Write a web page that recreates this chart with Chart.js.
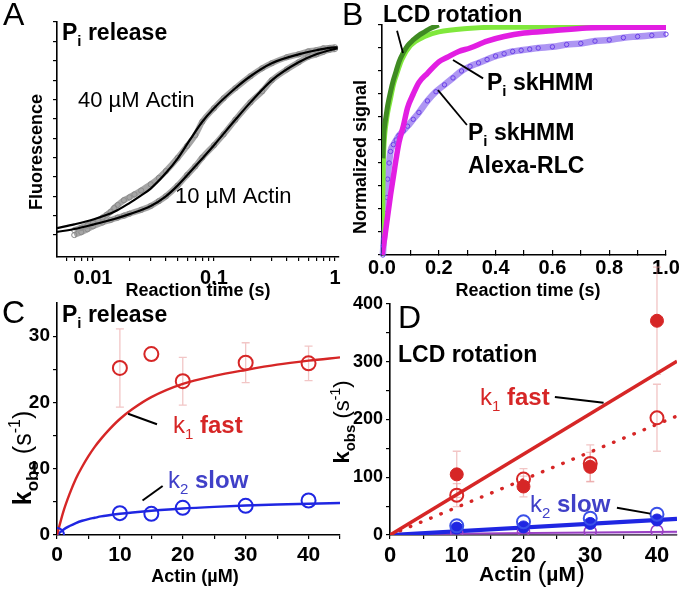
<!DOCTYPE html>
<html><head><meta charset="utf-8">
<script src="https://cdn.jsdelivr.net/npm/chart.js@4.4.1/dist/chart.umd.min.js"></script>
<style>
html,body{margin:0;padding:0;background:#fff;}
#wrap{position:relative;width:680px;height:592px;overflow:hidden;background:#fff;}
#wrap canvas{position:absolute;left:0;top:0;}
</style></head>
<body><div id="wrap">
<canvas id="cA" width="680" height="592"></canvas>
<canvas id="cB" width="680" height="592"></canvas>
<canvas id="cC" width="680" height="592"></canvas>
<canvas id="cD" width="680" height="592"></canvas>
</div>
<script>
// ---------- Panel A : Pi release (log time) ----------
const aFit40Time = [0.00504,0.007,0.01,0.015,0.02,0.025,0.03,0.04,0.05,0.063,0.08,0.1,0.15,0.2,0.3,0.5,0.7,1.0,1.05];
const aFit40     = [1.36,1.55,1.80,2.20,2.65,3.05,3.40,4.20,4.95,5.90,6.85,7.55,8.58,9.20,9.87,10.33,10.54,10.69,10.69];
const aFit10Time = [0.00504,0.007,0.01,0.015,0.02,0.03,0.04,0.05,0.07,0.1,0.15,0.2,0.3,0.5,0.7,1.0,1.05];
const aFit10     = [1.16,1.31,1.54,1.83,2.08,2.50,3.00,3.55,4.55,5.64,6.95,7.85,8.99,9.92,10.33,10.61,10.64];
const aData40Time = [0.007,0.008,0.009,0.01,0.011,0.012,0.013,0.014,0.015,0.016,0.018,0.02,0.022,0.025,0.03,0.035,0.04,0.05,0.06,0.07,0.08,0.1,0.12,0.15,0.2,0.25,0.3,0.4,0.5,0.6,0.7,0.8,0.9,1.0];
const aData40     = [1.25,1.38,1.50,1.62,1.75,1.90,2.05,2.20,2.40,2.55,2.80,2.95,3.10,3.30,3.62,3.95,4.30,4.98,5.60,6.15,6.85,7.55,8.06,8.58,9.20,9.61,9.87,10.18,10.33,10.48,10.54,10.64,10.66,10.69];
const aData10Time = [0.007,0.008,0.009,0.01,0.012,0.014,0.016,0.018,0.02,0.025,0.03,0.035,0.04,0.05,0.06,0.07,0.08,0.1,0.12,0.15,0.2,0.25,0.3,0.4,0.5,0.6,0.7,0.8,0.9,1.0];
const aData10     = [1.00,1.15,1.30,1.45,1.65,1.78,1.90,2.00,2.10,2.30,2.50,2.75,3.00,3.55,4.10,4.55,5.00,5.64,6.20,6.95,7.85,8.42,8.99,9.55,9.92,10.20,10.33,10.46,10.56,10.61];
const aXTicks = [0.006,0.007,0.008,0.009,0.01,0.02,0.03,0.04,0.05,0.06,0.07,0.08,0.09,0.1,0.2,0.3,0.4,0.5,0.6,0.7,0.8,0.9,1];
const aXLabelAt = [0.01,0.1,1];
const aXLabelText = ['0.01','0.1','1'];
const aYTicks = [1,2,3,4,5,6,7,8,9,10,11,12];

// ---------- Panel B : normalized signals ----------
const bDarkTime = [0.003,0.006,0.01,0.015,0.02,0.03,0.04,0.05,0.06,0.075,0.09,0.11,0.13,0.15,0.17,0.2];
const bDark     = [0.42,0.52,0.57,0.61,0.65,0.71,0.76,0.80,0.84,0.88,0.91,0.935,0.955,0.97,0.985,1.0];
const bLightTime = [0,0.002,0.004,0.006,0.01,0.015,0.02,0.03,0.04,0.05,0.07,0.1,0.15,0.2,0.3,0.4,0.5,0.6,0.7,0.8,0.9,1.0];
const bLight     = [0,0.15,0.35,0.45,0.53,0.58,0.62,0.68,0.74,0.78,0.85,0.91,0.95,0.97,0.985,0.99,0.99,0.99,0.993,0.99,0.99,0.99];
const bMagTime = [0,0.01,0.02,0.03,0.04,0.05,0.06,0.075,0.09,0.11,0.13,0.16,0.2,0.23,0.27,0.31,0.37,0.43,0.5,0.6,0.72,0.85,1.0];
const bMag     = [0,0.08,0.17,0.26,0.34,0.42,0.49,0.56,0.64,0.70,0.75,0.79,0.84,0.86,0.885,0.90,0.93,0.95,0.965,0.975,0.987,0.99,0.99];
const bPurTime = [0.003,0.005,0.007,0.01,0.013,0.017,0.02,0.025,0.03,0.04,0.05,0.06,0.075,0.09,0.11,0.13,0.16,0.19,0.22,0.25,0.28,0.31,0.34,0.37,0.4,0.43,0.46,0.49,0.52,0.55,0.6,0.65,0.7,0.75,0.8,0.85,0.9,0.95,1.0];
const bPur     = [0.0,0.04,0.07,0.12,0.18,0.25,0.33,0.40,0.45,0.48,0.50,0.52,0.54,0.56,0.59,0.62,0.67,0.71,0.74,0.77,0.80,0.82,0.835,0.85,0.865,0.875,0.885,0.89,0.895,0.90,0.905,0.915,0.92,0.93,0.935,0.945,0.95,0.955,0.96];
const bPurTailTime = [0,0,0.001,0.002];
const bPurTail     = [-0.21,-0.15,-0.10,-0.04];
const bXTicks = [0,0.1,0.2,0.3,0.4,0.5,0.6,0.7,0.8,0.9,1.0];
const bXLabelAt = [0,0.2,0.4,0.6,0.8,1.0];
const bXLabelText = ['0.0','0.2','0.4','0.6','0.8','1.0'];
const bYTicks = [0,0.1,0.2,0.3,0.4,0.5,0.6,0.7,0.8,0.9,1.0];

// ---------- Panel C : kobs vs actin (Pi release) ----------
const cFastActin = [10,15,20,30,40];
const cFast      = [25.2,27.3,23.2,26.0,25.9];
const cFastErr   = [5.9,0,3.6,3.0,2.6];
const cSlowActin = [0,10,15,20,30,40];
const cSlow      = [0,3.3,3.2,4.1,4.4,5.2];
const cFitActin  = [0,1,2,3,4,5,6,7,8,10,12,15,20,25,30,35,40,45];
const cFitFast   = [0,3.5,6.2,8.5,10.3,11.9,13.3,14.5,15.6,17.5,19.0,20.8,22.8,24.0,24.9,25.7,26.3,26.8];
const cFitSlow   = [0,0.8,1.35,1.8,2.15,2.4,2.6,2.8,2.95,3.2,3.4,3.65,4.0,4.25,4.45,4.6,4.72,4.82];
const cXTicks = [0,5,10,15,20,25,30,35,40,45];
const cXLabelAt = [0,10,20,30,40];
const cYTicks = [0,5,10,15,20,25,30];
const cYLabelAt = [0,10,20,30];

// ---------- Panel D : kobs vs actin (LCD rotation) ----------
const dActin = [10,20,30,40];
const dFastFilled = [105,84,118,371];
const dFastFilledErr = [40,18,25,93];
const dFastOpen = [69,97,124,203];
const dFastOpenErr = [20,18,32,58];
const dSlowOpen = [16,23,29,36];
const dSlowFilled = [12,14,20,26];
const dPurple = [4,7,6,7];
const dLineActin = [0,43];
const dFastLine = [0,301];
const dFastDotted = [0,206];
const dSlowLine = [0,28];
const dPurpleLine = [1.5,5.7];
const dXTicks = [0,5,10,15,20,25,30,35,40];
const dXLabelAt = [0,10,20,30,40];
const dYTicks = [0,50,100,150,200,250,300,350,400];
const dYLabelAt = [0,100,200,300,400];

// ---------- helpers ----------
const FAM = '"Liberation Sans", Arial, Helvetica, sans-serif';
const F = (s, b) => (b ? 'bold ' : '') + s + 'px ' + FAM;
const RED = '#d62626', BLUE = '#1f26e2', BLUE_T = '#4040c8', PURPLE = '#9a40c4';
const YW = 50, XH = 36;
const pts = (xs, ys) => xs.map((x, i) => ({x: x, y: ys[i]}));

function axis(o) {
  return {
    type: o.type || 'linear', position: o.pos, min: o.min, max: o.max,
    afterFit(s) {
      if (s.isHorizontal()) s.height = XH; else s.width = YW;
      s.paddingLeft = 0; s.paddingRight = 0; s.paddingTop = 0; s.paddingBottom = 0;
    },
    afterBuildTicks(s) { s.ticks = o.ticks.map(v => ({value: v})); },
    border: {display: true, color: '#000', width: 1.6},
    grid: {drawOnChartArea: false, drawTicks: true, tickLength: (o.tl !== undefined ? o.tl : 4), color: '#000', lineWidth: 1.2},
    ticks: {
      display: !!o.at, autoSkip: false, maxRotation: 0, minRotation: 0, padding: (o.pad !== undefined ? o.pad : 3),
      color: '#000', font: {family: FAM, weight: 'bold', size: o.fs || 17},
      callback: (v) => {
        if (!o.at) return '';
        const k = o.at.indexOf(v);
        if (k < 0) return '';
        return o.text ? o.text[k] : String(v);
      }
    }
  };
}
function base(scales, a) {
  return {
    responsive: false, animation: false, devicePixelRatio: 1, events: [],
    layout: {autoPadding: false, padding: {left: a.l - YW, top: a.t, right: 680 - a.r, bottom: 592 - a.b - XH}},
    plugins: {legend: {display: false}, tooltip: {enabled: false}},
    scales: scales
  };
}
function drawRich(ctx, it) {
  ctx.save();
  let total = 0;
  it.segs.forEach(s => { ctx.font = s.f; s.w = ctx.measureText(s.t).width; total += s.w; });
  ctx.translate(it.x, it.y);
  if (it.rot) ctx.rotate(-Math.PI / 2);
  let x = it.align === 'center' ? -total / 2 : 0;
  ctx.textBaseline = 'alphabetic'; ctx.textAlign = 'left';
  it.segs.forEach(s => { ctx.font = s.f; ctx.fillStyle = s.c || '#000'; ctx.fillText(s.t, x, s.dy || 0); x += s.w; });
  ctx.restore();
}
const seg = (t, f, c, dy) => ({t: t, f: f, c: c, dy: dy});
const piLabel = (rest) => [seg('P', F(23, 1)), seg('i', F(15, 1), '#000', 6), seg(rest, F(23, 1))];
const kLabel = (n, word, c) => [seg('k', F(24, 0), c), seg(n, F(15, 0), c, 6), seg(' ' + word, F(24, 1), c)];
const kobs = (fs) => [seg('k', F(fs, 1)), seg('obs', F(Math.round(fs * 0.68), 1), '#000', Math.round(fs * 0.27)), seg(' (s', F(fs, 0)), seg('-1', F(Math.round(fs * 0.62), 0), '#000', -Math.round(fs * 0.42)), seg(')', F(fs, 0))];

const ANN = {
  cA: {
    lines: [],
    texts: [
      {x: 3, y: 25, segs: [seg('A', F(32, 0))]},
      {x: 62, y: 40, segs: piLabel(' release')},
      {x: 78, y: 107, segs: [seg('40 µM Actin', F(22, 0))]},
      {x: 175, y: 203, segs: [seg('10 µM Actin', F(22, 0))]},
      {x: 42, y: 152, rot: true, align: 'center', segs: [seg('Fluorescence', F(18, 1))]},
      {x: 198, y: 296, align: 'center', segs: [seg('Reaction time (s)', F(18, 1))]}
    ]
  },
  cB: {
    lines: [
      {x1: 0.053, y1: 0.975, x2: 0.074, y2: 0.878},
      {x1: 0.25, y1: 0.848, x2: 0.356, y2: 0.768},
      {x1: 0.197, y1: 0.717, x2: 0.299, y2: 0.565}
    ],
    texts: [
      {x: 342, y: 25, segs: [seg('B', F(32, 0))]},
      {x: 383, y: 22, segs: [seg('LCD rotation', F(23, 1))]},
      {x: 487, y: 90, segs: piLabel(' skHMM')},
      {x: 468, y: 140, segs: piLabel(' skHMM')},
      {x: 468, y: 173, segs: [seg('Alexa-RLC', F(23, 1))]},
      {x: 366, y: 157, rot: true, align: 'center', segs: [seg('Normalized signal', F(18, 1))]},
      {x: 528, y: 296, align: 'center', segs: [seg('Reaction time (s)', F(18, 1))]}
    ]
  },
  cC: {
    lines: [
      {x1: 11.3, y1: 18.3, x2: 15.9, y2: 16.7, w: 2},
      {x1: 13.6, y1: 5.2, x2: 16.8, y2: 7.4, w: 2}
    ],
    texts: [
      {x: 2, y: 323, segs: [seg('C', F(32, 0))]},
      {x: 62, y: 322, segs: piLabel(' release')},
      {x: 173, y: 433, segs: kLabel('1', 'fast', RED)},
      {x: 168, y: 488, segs: kLabel('2', 'slow', BLUE_T)},
      {x: 31, y: 458, rot: true, align: 'center', segs: kobs(25)},
      {x: 195, y: 582, align: 'center', segs: [seg('Actin (µM)', F(18, 1))]}
    ]
  },
  cD: {
    lines: [
      {x1: 24.7, y1: 239, x2: 32, y2: 229, w: 2},
      {x1: 34.0, y1: 47, x2: 39.0, y2: 37, w: 2}
    ],
    texts: [
      {x: 398, y: 328, segs: [seg('D', F(32, 0))]},
      {x: 398, y: 362, segs: [seg('LCD rotation', F(23, 1))]},
      {x: 480, y: 405, segs: kLabel('1', 'fast', RED)},
      {x: 530, y: 512, segs: kLabel('2', 'slow', BLUE_T)},
      {x: 349, y: 422, rot: true, align: 'center', segs: kobs(22)},
      {x: 532, y: 581, align: 'center', segs: [seg('Actin ', F(21, 1)), seg('(', F(27, 0)), seg('µM', F(21, 1)), seg(')', F(27, 0))]}
    ]
  }
};

const annot = {
  id: 'annot',
  beforeDatasetsDraw(chart) {
    const ctx = chart.ctx, xs = chart.scales.x, ys = chart.scales.y;
    chart.data.datasets.forEach(ds => {
      if (!ds.errors) return;
      ctx.save(); ctx.strokeStyle = ds.errColor; ctx.lineWidth = 1.3;
      ds.data.forEach((p, i) => {
        const e = ds.errors[i]; if (!e) return;
        const x = xs.getPixelForValue(p.x), y1 = ys.getPixelForValue(p.y - e), y2 = ys.getPixelForValue(p.y + e);
        ctx.beginPath(); ctx.moveTo(x, y1); ctx.lineTo(x, y2);
        ctx.moveTo(x - 4, y1); ctx.lineTo(x + 4, y1); ctx.moveTo(x - 4, y2); ctx.lineTo(x + 4, y2);
        ctx.stroke();
      });
      ctx.restore();
    });
  },
  afterDraw(chart) {
    const spec = ANN[chart.canvas.id]; if (!spec) return;
    const ctx = chart.ctx, xs = chart.scales.x, ys = chart.scales.y;
    spec.lines.forEach(l => {
      ctx.save(); ctx.strokeStyle = l.c || '#000'; ctx.lineWidth = l.w || 1.8;
      ctx.beginPath();
      ctx.moveTo(xs.getPixelForValue(l.x1), ys.getPixelForValue(l.y1));
      ctx.lineTo(xs.getPixelForValue(l.x2), ys.getPixelForValue(l.y2));
      ctx.stroke(); ctx.restore();
    });
    spec.texts.forEach(t => drawRich(ctx, t));
  }
};
Chart.register(annot);

// ---------- Chart A ----------
const fitLine = (d) => ({data: d, showLine: true, borderColor: '#000', borderWidth: 2.2, pointRadius: 0, cubicInterpolationMode: 'monotone'});
const grayData = (d) => ({data: d, showLine: true, borderColor: 'rgba(155,155,155,0.9)', borderWidth: 6, pointRadius: 2.6,
  pointBorderColor: '#8a8a8a', pointBackgroundColor: 'rgba(255,255,255,0)', pointBorderWidth: 1, cubicInterpolationMode: 'monotone'});
new Chart(document.getElementById('cA'), {
  type: 'scatter',
  data: {datasets: [
    fitLine(pts(aFit40Time, aFit40)), fitLine(pts(aFit10Time, aFit10)),
    grayData(pts(aData40Time, aData40)), grayData(pts(aData10Time, aData10))
  ]},
  options: base({
    x: axis({type: 'logarithmic', pos: 'bottom', min: 0.00504, max: 1.079, ticks: aXTicks, at: aXLabelAt, text: aXLabelText, fs: 20, pad: 5}),
    y: axis({pos: 'left', min: -0.134, max: 12, ticks: aYTicks})
  }, {l: 57, t: 22, r: 339, b: 257})
});

// ---------- Chart B ----------
const band = (d, c, w) => ({data: d, showLine: true, borderColor: c, borderWidth: w, pointRadius: 0, cubicInterpolationMode: 'monotone'});
const purpleRing = {pointRadius: 2.2, pointBorderColor: '#6a40e6', pointBackgroundColor: 'rgba(255,255,255,0)', pointBorderWidth: 1, clip: false};
new Chart(document.getElementById('cB'), {
  type: 'scatter',
  data: {datasets: [
    band(pts(bDarkTime, bDark), '#3f8b22', 5),
    band(pts(bMagTime, bMag), '#e21ee2', 5.5),
    band(pts(bLightTime, bLight), '#80e83c', 5),
    Object.assign({data: pts(bPurTime, bPur), showLine: true, borderColor: 'rgba(120,80,235,0.6)', borderWidth: 6.5, cubicInterpolationMode: 'monotone'}, purpleRing),
    Object.assign({data: pts(bPurTailTime, bPurTail), showLine: false}, purpleRing)
  ]},
  options: base({
    x: axis({pos: 'bottom', min: 0, max: 1, ticks: bXTicks, at: bXLabelAt, text: bXLabelText, fs: 20, tl: -5, pad: 6}),
    y: axis({pos: 'left', min: 0, max: 1, ticks: bYTicks})
  }, {l: 382, t: 25, r: 666, b: 255})
});

// ---------- Chart C ----------
const ring = (d, c, extra) => Object.assign({data: d, showLine: false, pointRadius: 7, pointBorderWidth: 2, pointBorderColor: c, pointBackgroundColor: 'rgba(255,255,255,0)'}, extra || {});
new Chart(document.getElementById('cC'), {
  type: 'scatter',
  data: {datasets: [
    ring(pts(cFastActin, cFast), RED, {errors: cFastErr, errColor: '#f2c6c6'}),
    ring(pts(cSlowActin, cSlow), BLUE),
    {data: pts(cFitActin, cFitFast), showLine: true, borderColor: RED, borderWidth: 2.4, pointRadius: 0, cubicInterpolationMode: 'monotone'},
    {data: pts(cFitActin, cFitSlow), showLine: true, borderColor: BLUE, borderWidth: 2.4, pointRadius: 0, cubicInterpolationMode: 'monotone'}
  ]},
  options: base({
    x: axis({pos: 'bottom', min: 0, max: 45, ticks: cXTicks, at: cXLabelAt, fs: 21, pad: 4}),
    y: axis({pos: 'left', min: 0, max: 35, ticks: cYTicks, at: cYLabelAt, fs: 19, pad: 3})
  }, {l: 57, t: 303, r: 340, b: 535})
});

// ---------- Chart D ----------
new Chart(document.getElementById('cD'), {
  type: 'scatter',
  data: {datasets: [
    {data: pts(dActin, dFastFilled), pointRadius: 6.5, pointBorderWidth: 1, pointBorderColor: RED, pointBackgroundColor: RED, errors: dFastFilledErr, errColor: 'rgba(232,150,150,0.55)'},
    ring(pts(dActin, dFastOpen), RED, {pointRadius: 6.5, errors: dFastOpenErr, errColor: 'rgba(232,150,150,0.55)'}),
    ring(pts(dActin, dSlowOpen), '#3a50e8', {pointRadius: 6.5}),
    {data: pts(dActin, dSlowFilled), pointRadius: 6, pointBorderWidth: 1, pointBorderColor: BLUE, pointBackgroundColor: BLUE},
    ring(pts(dActin, dPurple), PURPLE, {pointRadius: 6, pointBorderWidth: 1.6}),
    {data: pts(dLineActin, dFastLine), showLine: true, borderColor: RED, borderWidth: 3.6, pointRadius: 0},
    {data: pts(dLineActin, dFastDotted), showLine: true, borderColor: RED, borderWidth: 3.4, borderDash: [0.5, 10.5], borderCapStyle: 'round', pointRadius: 0},
    {data: pts(dLineActin, dSlowLine), showLine: true, borderColor: BLUE, borderWidth: 4.2, pointRadius: 0},
    {data: pts(dLineActin, dPurpleLine), showLine: true, borderColor: PURPLE, borderWidth: 2, pointRadius: 0, fill: 'origin', backgroundColor: 'rgba(205,165,235,0.45)'}
  ]},
  options: base({
    x: axis({pos: 'bottom', min: 0, max: 43, ticks: dXTicks, at: dXLabelAt, fs: 22, pad: 4}),
    y: axis({pos: 'left', min: 0, max: 400, ticks: dYTicks, at: dYLabelAt, fs: 18, pad: 3})
  }, {l: 390, t: 304, r: 677, b: 535})
});
</script>
</body></html>
